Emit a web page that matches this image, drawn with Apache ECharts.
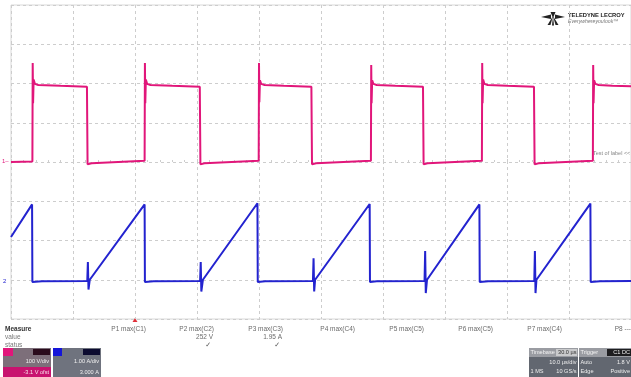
<!DOCTYPE html>
<html><head><meta charset="utf-8">
<script src="https://cdn.jsdelivr.net/npm/echarts@6/dist/echarts.min.js"></script>
<style>html,body{margin:0;padding:0;background:#fff;}#c{width:631px;height:377px;}</style>
</head><body><div id="c"></div>
<script>
// Time axis: µs (10 µs/div, 10 divisions)
const timeTicks = [0, 10, 20, 30, 40, 50, 60, 70, 80, 90, 100];
// C1 (V, 100 V/div) trace vertices [µs, V]
const c1Trace = [
  [0,0],[3.45,1],[3.5,252],[3.56,150],[3.65,210],[3.85,199],[4.4,196],[8,194],[12.25,192],[12.35,-6],[13.0,-3],
  [21.55,3],[21.6,252],[21.66,150],[21.75,210],[21.95,199],[22.5,196],[26,194],[30.45,192],[30.55,-6],[31.2,-3],
  [39.95,3],[40.0,252],[40.06,152],[40.15,208],[40.35,199],[40.9,196],[44,194],[48.45,192],[48.55,-6],[49.2,-3],
  [58.05,3],[58.1,247],[58.16,150],[58.25,208],[58.45,199],[59,196],[62,194],[66.45,192],[66.55,-6],[67.2,-3],
  [75.95,3],[76.0,252],[76.06,150],[76.15,210],[76.35,199],[76.9,196],[80,194],[84.35,192],[84.45,-6],[85.1,-3],
  [93.85,3],[93.9,247],[93.96,150],[94.05,208],[94.25,199],[94.8,196],[97,194],[100,193]
];
// C2 (A, 1.00 A/div) trace vertices [µs, A]
const c2Trace = [
  [0,1.09],[3.4,1.92],[3.45,-0.06],[5,-0.04],
  [12.3,-0.03],[12.4,0.45],[12.5,-0.25],[12.7,0],[21.55,1.92],[21.6,-0.06],[23,-0.04],
  [30.5,-0.03],[30.6,0.45],[30.7,-0.3],[30.95,0],[39.75,1.95],[39.8,-0.06],[41,-0.04],
  [48.7,-0.03],[48.8,0.55],[48.9,-0.3],[49.05,0],[57.85,1.93],[57.9,-0.06],[59,-0.04],
  [66.7,-0.03],[66.8,0.73],[66.9,-0.34],[67.1,0],[75.55,1.92],[75.6,-0.06],[77,-0.04],
  [84.4,-0.03],[84.5,0.73],[84.6,-0.34],[84.75,0],[93.45,1.94],[93.5,-0.06],[95,-0.04],[100,-0.03]
];
// Vertical scales
const c1Range = [-400, 400];   // 100 V/div
const c2Range = [-1, 7];       // 1.00 A/div, 3.000 A offset
// Measurement table
const measNames = ['P1 max(C1)','P2 max(C2)','P3 max(C3)','P4 max(C4)','P5 max(C5)','P6 max(C5)','P7 max(C4)','P8 ---'];
const measValues = ['', '252 V', '1.95 A', '', '', '', '', ''];
const measStatus = ['', '\u2713', '\u2713', '', '', '', '', ''];
const c1Info = ['100 V/div', '-3.1 V ofst'];
const c2Info = ['1.00 A/div', '3.000 A'];
const tbInfo = ['Timebase', '30.0 \u00b5s', '10.0 \u00b5s/div', '1 MS', '10 GS/s'];
const trigInfo = ['Trigger', 'C1 DC', 'Auto', '1.8 V', 'Edge', 'Positive'];

const PINK = '#e1167a', BLUE = '#2323cf', GRID = '#cdcdcd';
const FF = 'Liberation Sans, Arial, sans-serif';
const chart = echarts.init(document.getElementById('c'), null, {renderer:'canvas'});

function txt(x, y, s, o) {
  return Object.assign({type:'text', x:x, y:y, silent:true,
    style:Object.assign({text:s, fill:'#6a6a6a', font:'6.5px ' + FF, textVerticalAlign:'middle'}, o||{})});
}
function rect(x, y, w, h, fill) {
  return {type:'rect', shape:{x:x, y:y, width:w, height:h}, style:{fill:fill}, silent:true};
}
const BOXF = '5.6px ' + FF;
const colRight = [146, 214, 283, 355, 424, 493, 562, 631];
const g = [];
// logo
g.push({type:'polygon', shape:{points:[[541,17],[551,14.5],[551,19]]}, style:{fill:'#222'}});
g.push({type:'polygon', shape:{points:[[565,17],[555,14.5],[555,19]]}, style:{fill:'#222'}});
g.push({type:'polygon', shape:{points:[[553,16],[547.5,25],[550.5,25]]}, style:{fill:'#222'}});
g.push({type:'polygon', shape:{points:[[553,16],[552,25.5],[554,25.5]]}, style:{fill:'#222'}});
g.push({type:'polygon', shape:{points:[[553,16],[555.5,25],[558.5,25]]}, style:{fill:'#222'}});
g.push({type:'polygon', shape:{points:[[553,18],[550.5,12],[555.5,12]]}, style:{fill:'#222'}});
g.push(txt(568, 15, 'TELEDYNE LECROY', {fill:'#222', font:'bold 5.8px ' + FF}));
g.push(txt(568, 21.5, 'Everywhereyoulook\u2122', {fill:'#777', font:'italic 5.2px ' + FF}));
// ground markers & label
g.push(txt(2, 161, '1\u2013', {fill:PINK, font:'6px ' + FF}));
g.push(txt(3, 281, '2', {fill:BLUE, font:'6px ' + FF}));
g.push(txt(593, 153, 'Test of label <<', {fill:'#888', font:'5.5px ' + FF}));
// trigger position marker
g.push({type:'polygon', shape:{points:[[135,318],[132.5,322],[137.5,322]]}, style:{fill:'#e0303a'}});
// measure table
g.push(txt(5, 329.5, 'Measure', {fill:'#333', font:'bold 6.5px ' + FF}));
g.push(txt(5, 337.5, 'value', {fill:'#777'}));
g.push(txt(5, 345.5, 'status', {fill:'#777'}));
measNames.forEach((n, i) => {
  g.push(txt(colRight[i], 329.5, n, {textAlign:'right'}));
  if (measValues[i]) g.push(txt(colRight[i] - 1, 337.5, measValues[i], {textAlign:'right'}));
  if (measStatus[i]) g.push(txt(colRight[i] - 3, 345.5, measStatus[i], {textAlign:'right', fill:'#555', font:'bold 7px DejaVu Sans'}));
});
// C1 box
g.push(rect(3, 348, 48, 29, '#7d6f7a'));
g.push(rect(3, 348, 10, 8, PINK));
g.push(rect(33, 349, 17, 6, '#2a0b1c'));
g.push(rect(3, 367, 48, 10, '#c8136f'));
g.push(txt(49, 361.5, c1Info[0], {textAlign:'right', fill:'#f0f0f0', font:BOXF}));
g.push(txt(49, 372, c1Info[1], {textAlign:'right', fill:'#f6e0ea', font:BOXF}));
// C2 box
g.push(rect(53, 348, 48, 29, '#6f737e'));
g.push(rect(53, 348, 9, 8, '#1515d8'));
g.push(rect(83, 349, 17, 6, '#0b0b30'));
g.push(txt(99, 361.5, c2Info[0], {textAlign:'right', fill:'#f0f0f0', font:BOXF}));
g.push(txt(99, 372, c2Info[1], {textAlign:'right', fill:'#f0f0f0', font:BOXF}));
// Timebase box
g.push(rect(529, 348, 49, 29, '#626770'));
g.push(rect(529, 348, 49, 9, '#9a9ca2'));
g.push(rect(556, 349, 21, 7, '#c9cacc'));
g.push(txt(530.5, 352.5, tbInfo[0], {fill:'#f4f4f4', font:BOXF}));
g.push(txt(576.5, 352.5, tbInfo[1], {textAlign:'right', fill:'#333', font:BOXF}));
g.push(txt(576.5, 362, tbInfo[2], {textAlign:'right', fill:'#eeeeee', font:BOXF}));
g.push(txt(530.5, 371.5, tbInfo[3], {fill:'#eeeeee', font:BOXF}));
g.push(txt(576.5, 371.5, tbInfo[4], {textAlign:'right', fill:'#eeeeee', font:BOXF}));
// Trigger box
g.push(rect(579, 348, 52, 29, '#626770'));
g.push(rect(579, 348, 52, 9, '#9a9ca2'));
g.push(rect(607, 349, 24, 7, '#1d1d1f'));
g.push(txt(580.5, 352.5, trigInfo[0], {fill:'#f4f4f4', font:BOXF}));
g.push(txt(630, 352.5, trigInfo[1], {textAlign:'right', fill:'#eeeeee', font:BOXF}));
g.push(txt(580.5, 362, trigInfo[2], {fill:'#eeeeee', font:BOXF}));
g.push(txt(630, 362, trigInfo[3], {textAlign:'right', fill:'#eeeeee', font:BOXF}));
g.push(txt(580.5, 371.5, trigInfo[4], {fill:'#eeeeee', font:BOXF}));
g.push(txt(630, 371.5, trigInfo[5], {textAlign:'right', fill:'#eeeeee', font:BOXF}));

const split = {show:true, lineStyle:{color:GRID, type:[3,3], width:1}};
chart.setOption({
  animation:false,
  backgroundColor:'#ffffff',
  grid:{left:11, top:5, width:620, height:314, show:true, borderColor:'#d9d9d9', borderWidth:1, backgroundColor:'transparent'},
  xAxis:[{
    type:'value', min:timeTicks[0], max:timeTicks[timeTicks.length-1], interval:timeTicks[1]-timeTicks[0],
    axisLabel:{show:false}, axisLine:{show:false, onZero:true},
    axisTick:{show:true, inside:true, length:3, lineStyle:{color:GRID}},
    minorTick:{show:true, splitNumber:5, length:2, lineStyle:{color:GRID}},
    splitLine:split
  }],
  yAxis:[{
    type:'value', min:c1Range[0], max:c1Range[1], interval:100,
    axisLabel:{show:false}, axisLine:{show:false}, axisTick:{show:false}, splitLine:split
  },{
    type:'value', min:c2Range[0], max:c2Range[1], interval:1, show:false, splitLine:{show:false}
  }],
  series:[
    {type:'line', data:c1Trace, xAxisIndex:0, yAxisIndex:0, symbol:'none', lineStyle:{color:PINK, width:2}, z:3},
    {type:'line', data:c2Trace, xAxisIndex:0, yAxisIndex:1, symbol:'none', lineStyle:{color:BLUE, width:2}, z:4}
  ],
  graphic:g
});
</script></body></html>
